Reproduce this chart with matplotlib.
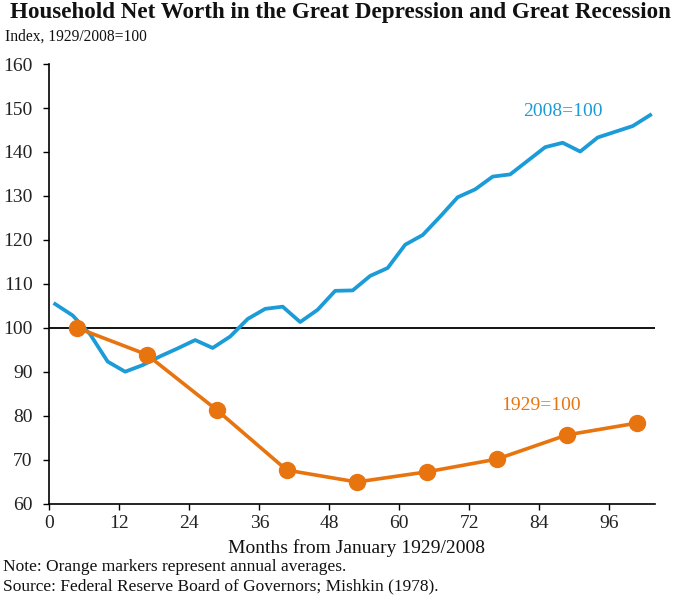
import matplotlib
matplotlib.use("Agg")
import matplotlib.pyplot as plt

# Data
blue_months = [1, 4, 7, 10, 13, 16, 19, 22, 25, 28, 31, 34, 37, 40, 43, 46, 49, 52,
               55, 58, 61, 64, 67, 70, 73, 76, 79, 82, 85, 88, 91, 94, 97, 100, 103]
blue_values = [105.4, 102.8, 98.5, 92.3, 90.0, 91.5, 93.5, 95.3, 97.2, 95.4, 98.0, 102.0,
               104.3, 104.8, 101.3, 104.1, 108.4, 108.5, 111.8, 113.6, 118.9, 121.1,
               125.3, 129.7, 131.5, 134.4, 134.9, 138.0, 141.1, 142.1, 140.1, 143.3,
               144.6, 145.9, 148.4]
orange_months = [4.7, 16.7, 28.7, 40.7, 52.7, 64.7, 76.7, 88.7, 100.7]
orange_values = [100.0, 93.9, 81.3, 67.6, 64.9, 67.2, 70.1, 75.6, 78.3]
x_ticks = [0, 12, 24, 36, 48, 60, 72, 84, 96]
y_ticks = [60, 70, 80, 90, 100, 110, 120, 130, 140, 150, 160]

BLUE = "#1b9bd7"
ORANGE = "#e8740f"
plt.rcParams['font.family'] = ['Liberation Serif', 'DejaVu Serif']

fig = plt.figure(figsize=(6.85, 5.99), dpi=100)
ax = fig.add_axes([0.072, 0.1594, 0.884, 0.7336])

ax.axhline(100, color="black", lw=1.3, zorder=1)
ax.plot(blue_months, blue_values, color=BLUE, lw=2.7, zorder=2, solid_joinstyle='round')
ax.plot(orange_months, orange_values, color=ORANGE, lw=2.6, marker='o', markersize=11.5,
        zorder=3)

ax.set_xlim(0, 103.8)
ax.set_ylim(60, 160)
ax.set_xticks(x_ticks)
ax.set_yticks(y_ticks)
ax.tick_params(axis='both', direction='out', length=4, width=1, labelsize=14,
               colors='black', labelcolor='#222222')
ax.tick_params(axis='x', pad=4)
ax.tick_params(axis='y', pad=8)
for s in ['top', 'right']:
    ax.spines[s].set_visible(False)
for s in ['left', 'bottom']:
    ax.spines[s].set_linewidth(1.2)

ax.text(88.1, 149.3, "2008=100", color=BLUE, fontsize=14, ha='center', va='center')
ax.text(84.3, 82.3, "1929=100", color=ORANGE, fontsize=14, ha='center', va='center')

fig.text(0.014, 0.979, "Household Net Worth in the Great Depression and Great Recession",
         fontsize=16.6, fontweight='bold', ha='left', va='center', color='#111111')
fig.text(0.008, 0.938, "Index, 1929/2008=100", fontsize=11.2, ha='left', va='center',
         color='#111111')
fig.text(0.52, 0.085, "Months from January 1929/2008", fontsize=14, ha='center',
         va='center', color='#111111')
fig.text(0.004, 0.053, "Note: Orange markers represent annual averages.", fontsize=12.5,
         ha='left', va='center', color='#111111')
fig.text(0.004, 0.021, "Source: Federal Reserve Board of Governors; Mishkin (1978).",
         fontsize=12.5, ha='left', va='center', color='#111111')

fig.savefig("out.png", dpi=100)
